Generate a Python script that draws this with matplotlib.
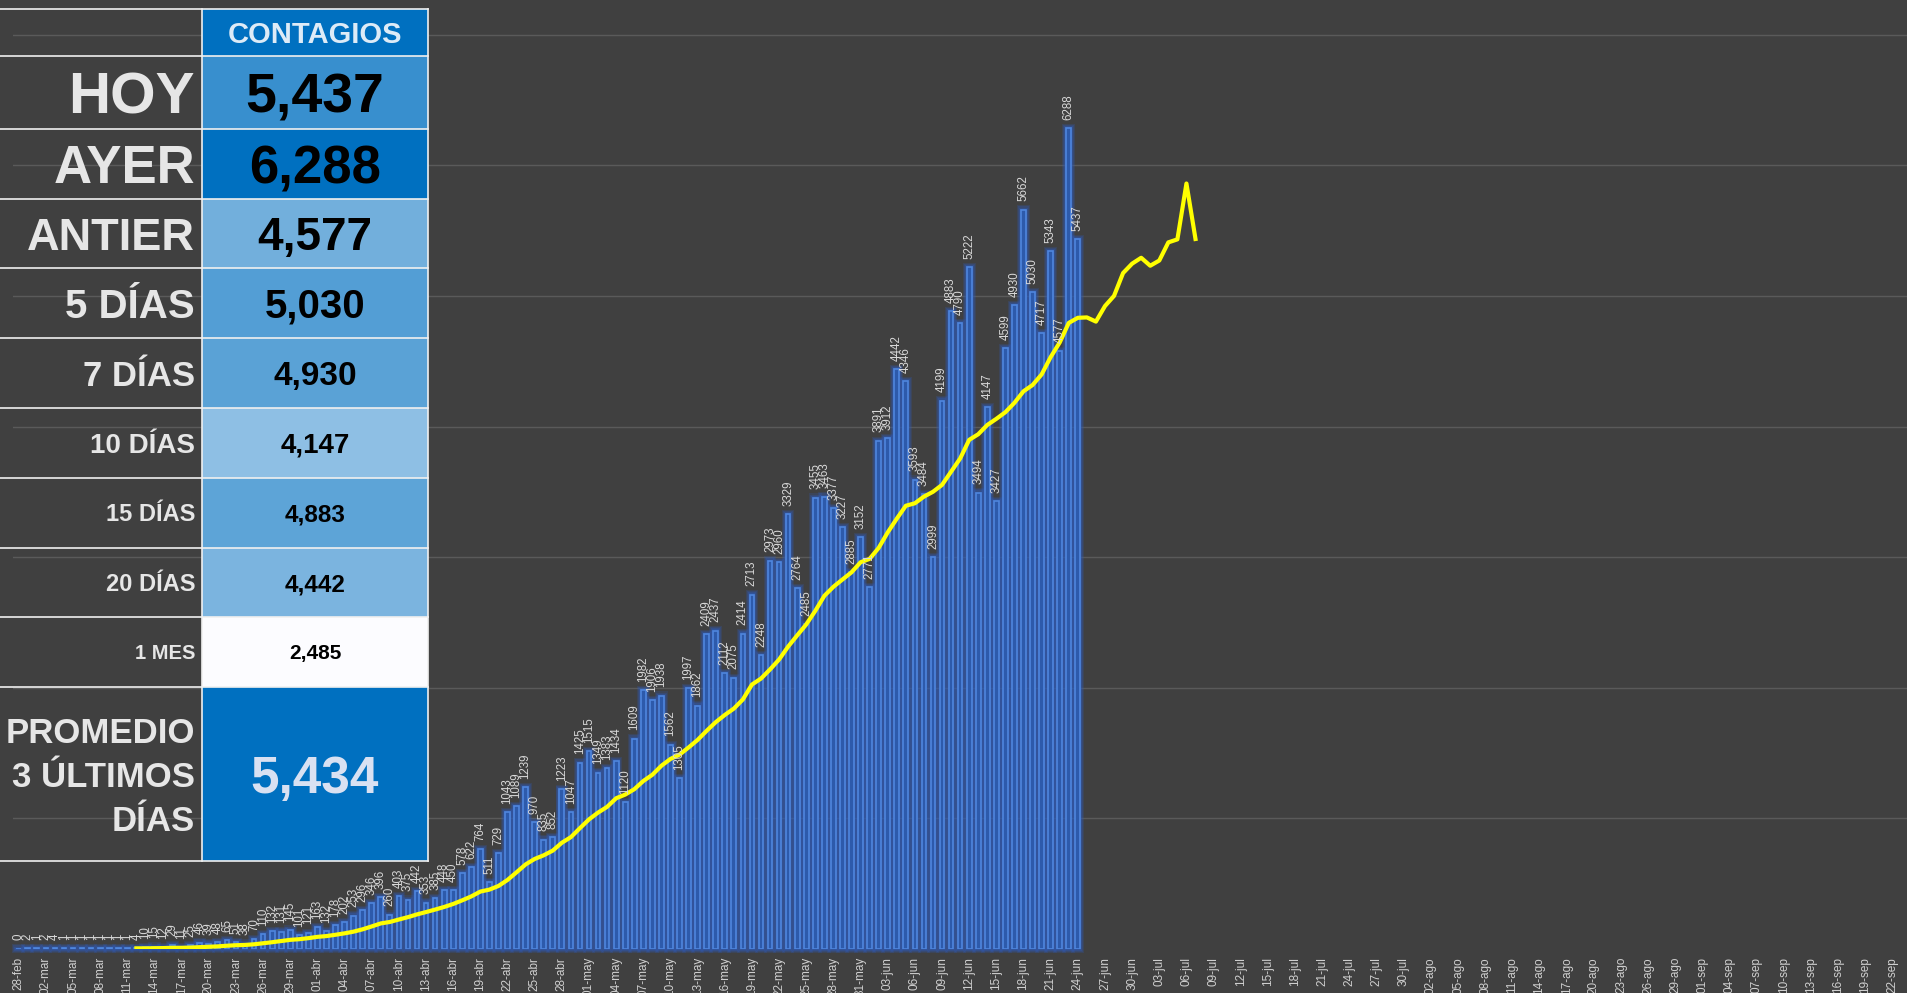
import datetime as dt
import numpy as np
import matplotlib.pyplot as plt
import matplotlib.colors as mcolors
from matplotlib.patches import Rectangle

plt.rcParams['font.family'] = ['Liberation Sans', 'DejaVu Sans']

# contagios diarios desde 28-feb hasta 24-jun
casos = [0, 2, 1, 2, 4, 1, 1, 1, 1, 1, 1, 1, 1, 4, 10, 15, 12, 29, 11, 25,
         46, 39, 48, 65, 51, 38, 70, 110, 132, 131, 145, 101, 121, 163, 132, 178,
         202, 253, 296, 346, 396, 260, 403, 375, 442, 353, 385, 448, 450, 578,
         622, 764, 511, 729, 1043, 1089, 1239, 970, 835, 852, 1223, 1047, 1425,
         1515, 1349, 1383, 1434, 1120, 1609, 1982, 1906, 1938, 1562, 1305, 1997,
         1862, 2409, 2437, 2112, 2075, 2414, 2713, 2248, 2973, 2960, 3329, 2764,
         2485, 3455, 3463, 3377, 3227, 2885, 3152, 2771, 3891, 3912, 4442, 4346,
         3593, 3484, 2999, 4199, 4883, 4790, 5222, 3494, 4147, 3427, 4599, 4930,
         5662, 5030, 4717, 5343, 4577, 6288, 5437]

# promedio de 14 dias (linea amarilla), desde 11-mar hasta 07-jul
prom_inicio = 13
prom = [2, 2, 3, 4, 6, 6, 8, 11, 14, 17, 22, 26, 28, 33, 41, 49, 58, 67, 72, 80,
        90, 96, 106, 117, 130, 148, 170, 193, 204, 223, 241, 262, 280, 299, 319,
        342, 370, 400, 437, 452, 480, 526, 585, 645, 687, 715, 751, 811, 854, 923,
        990, 1042, 1086, 1152, 1180, 1221, 1284, 1332, 1401, 1453, 1486, 1541,
        1599, 1669, 1735, 1790, 1839, 1909, 2023, 2069, 2139, 2215, 2314, 2400,
        2484, 2588, 2703, 2772, 2828, 2883, 2960, 2986, 3070, 3189, 3294, 3393,
        3412, 3463, 3500, 3553, 3654, 3755, 3898, 3941, 4012, 4059, 4110, 4182,
        4270, 4318, 4399, 4532, 4644, 4794, 4833, 4836, 4804, 4923, 5001, 5176,
        5248, 5293, 5232, 5272, 5411, 5434, 5862, 5437]

meses = ['ene', 'feb', 'mar', 'abr', 'may', 'jun', 'jul', 'ago', 'sep', 'oct']
inicio = dt.date(2020, 2, 28)
n_dias = 208

filas = ['HOY', 'AYER', 'ANTIER', '5 DÍAS', '7 DÍAS', '10 DÍAS', '15 DÍAS', '20 DÍAS', '1 MES']
valores = [5437, 6288, 4577, 5030, 4930, 4147, 4883, 4442, 2485]
promedio3 = 5434

tick_pos = list(range(0, n_dias, 3))
tick_lab = []
for p in tick_pos:
    d = inicio + dt.timedelta(days=p)
    tick_lab.append('%02d-%s' % (d.day, meses[d.month - 1]))

W, H = 1907, 993
bg = '#404040'
fig = plt.figure(figsize=(W / 100, H / 100), dpi=100, facecolor=bg)
ax = fig.add_axes([13 / W, 44.4 / H, 1 - 13 / W, (H - 44.4) / H])
ax.set_facecolor(bg)
ax.set_xlim(-0.63, 208.6)
ax.set_ylim(0, 7268)
for s in ax.spines.values():
    s.set_visible(False)
ax.set_yticks(range(1000, 8000, 1000))
ax.tick_params(axis='y', left=False, labelleft=False)
ax.grid(axis='y', color='#5a5a5a', linewidth=1)
ax.set_axisbelow(True)

x = np.arange(len(casos))
y = np.array(casos)
# halo azul alrededor de las barras
for k, a in [(4, 0.22), (3, 0.28), (2, 0.36), (1, 0.46)]:
    ax.bar(x, y + 2 * k * 8, bottom=-k * 8, width=0.52 + k * 0.22, color='#2f5ab4',
           alpha=a, linewidth=0, zorder=2, clip_on=False)
ax.bar(x, y, width=0.52, color='#2d5aab', edgecolor='#4f86de', linewidth=1.2, zorder=3)

px = list(range(prom_inicio, prom_inicio + len(prom)))
ax.plot(px, prom, color='#ffff00', linewidth=3.0, zorder=4)

for xi, v in zip(x, casos):
    ax.annotate(str(v), (xi, v), xytext=(0, 6), textcoords='offset points',
                rotation=90, ha='center', va='bottom', fontsize=8.3,
                color='#d9d9d9', zorder=5, clip_on=False)

ax.set_xticks(tick_pos)
ax.set_xticklabels(tick_lab, rotation=90, fontsize=8.5, color='#d0d0d0')
ax.tick_params(axis='x', length=0, pad=6)

# tabla
t = fig.add_axes([0, 0, 1, 1])
t.set_xlim(0, W)
t.set_ylim(H, 0)
t.axis('off')

x0, x1, x2 = 0, 202, 428
bordes = [55.7, 129.3, 199, 268.3, 338.3, 408, 478, 547.7, 617, 687]
cmap = mcolors.LinearSegmentedColormap.from_list('esc', ['#fcfcff', '#0070c0'])
norm = mcolors.Normalize(min(valores), max(valores))
azul = '#0070c0'
linea = '#f0f0f0'

t.add_patch(Rectangle((x1, 9.3), x2 - x1, 55.7 - 9.3, color=azul, lw=0))
t.text((x1 + x2) / 2, 43.3, 'CONTAGIOS', ha='center', va='baseline', fontsize=21,
       fontweight='bold', color='#ddebf7')

tam_lab = [42, 38, 32.5, 29, 25, 20, 17, 17, 14.5]
tam_val = [40, 38, 33, 29, 24, 20, 17.5, 17.5, 15]
for i, (f, v) in enumerate(zip(filas, valores)):
    ya, yb = bordes[i], bordes[i + 1]
    t.add_patch(Rectangle((x1, ya), x2 - x1, yb - ya, color=cmap(norm(v)), lw=0))
    yc = (ya + yb) / 2
    t.text(195, yc + 0.716 * tam_lab[i] * 100 / 72 / 2, f, ha='right', va='baseline',
           fontsize=tam_lab[i], fontweight='bold', color='#e6e6e6')
    t.text((x1 + x2) / 2, yc + 0.716 * tam_val[i] * 100 / 72 / 2, '{:,}'.format(v),
           ha='center', va='baseline', fontsize=tam_val[i], fontweight='bold', color='black')

t.add_patch(Rectangle((x1, 687), x2 - x1, 861 - 687, color=azul, lw=0))
for txt, yb in [('PROMEDIO', 743.3), ('3 ÚLTIMOS', 786.7), ('DÍAS', 830.7)]:
    t.text(195, yb, txt, ha='right', va='baseline', fontsize=25, fontweight='bold',
           color='#e6e6e6')
t.text((x1 + x2) / 2, 793.3, '{:,}'.format(promedio3), ha='center', va='baseline',
       fontsize=37, fontweight='bold', color='#d9e1f2')

for yb in [9.3] + bordes + [861]:
    t.plot([x0, x2], [yb, yb], color=linea, lw=1.2)
t.plot([x1, x1], [9.3, 861], color=linea, lw=1.2)
t.plot([x2, x2], [9.3, 861], color=linea, lw=1.2)

fig.savefig('out.png', dpi=100, facecolor=bg)
